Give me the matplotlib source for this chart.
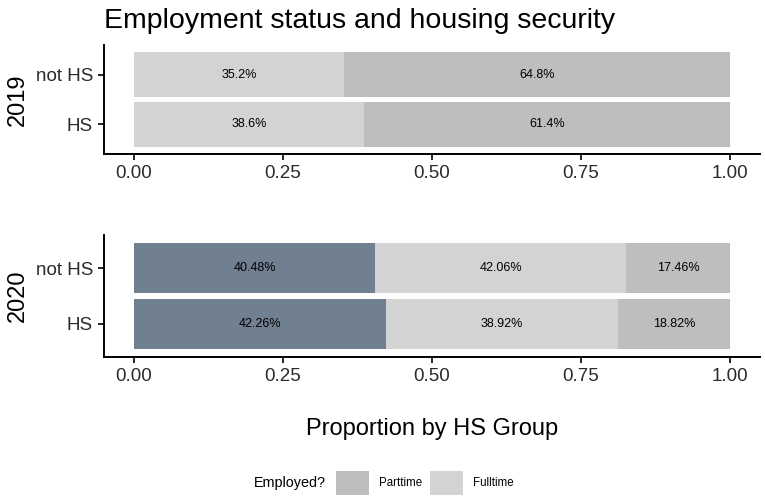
import matplotlib
matplotlib.use("Agg")
import matplotlib.pyplot as plt
from matplotlib.patches import Patch
import numpy as np

plt.rcParams['font.family'] = ['Liberation Sans', 'DejaVu Sans']

groups = ["HS", "not HS"]
# 2019 proportions
fulltime_2019 = [0.386, 0.352]
parttime_2019 = [0.614, 0.648]
# 2020 proportions
unemployed_2020 = [0.4226, 0.4048]
fulltime_2020 = [0.3892, 0.4206]
parttime_2020 = [0.1882, 0.1746]

labels_2019 = [["38.6%", "35.2%"], ["61.4%", "64.8%"]]
labels_2020 = [["42.26%", "40.48%"], ["38.92%", "42.06%"], ["18.82%", "17.46%"]]

c_slate = "#708090"
c_full = "#D3D3D3"
c_part = "#BEBEBE"

W, H = 765, 504
fig = plt.figure(figsize=(W / 100, H / 100), dpi=100)

def fx(px):
    return px / W

def fy(py):
    return 1 - py / H

ax1 = fig.add_axes([fx(104), fy(154), fx(760) - fx(104), fy(45) - fy(154)])
ax2 = fig.add_axes([fx(104), fy(357), fx(760) - fx(104), fy(235) - fy(357)])

ypos = np.arange(len(groups))

def draw(ax, series, colors, labels):
    left = np.zeros(len(groups))
    for vals, col, labs in zip(series, colors, labels):
        vals = np.array(vals)
        ax.barh(ypos, vals, left=left, height=0.9, color=col, edgecolor='none')
        for y, l, v, t in zip(ypos, left, vals, labs):
            ax.text(l + v / 2, y, t, ha='center', va='center', fontsize=9, color='black')
        left = left + vals

draw(ax1, [fulltime_2019, parttime_2019], [c_full, c_part], labels_2019)
draw(ax2, [unemployed_2020, fulltime_2020, parttime_2020], [c_slate, c_full, c_part], labels_2020)

xt = [0.0, 0.25, 0.5, 0.75, 1.0]
for ax, yl in [(ax1, "2019"), (ax2, "2020")]:
    ax.set_xlim(-0.05, 1.05)
    ax.set_ylim(-0.6, 1.6)
    ax.set_yticks(ypos)
    ax.set_yticklabels(groups)
    ax.set_xticks(xt)
    ax.set_xticklabels(["0.00", "0.25", "0.50", "0.75", "1.00"])
    for s in ['top', 'right']:
        ax.spines[s].set_visible(False)
    for s in ['left', 'bottom']:
        ax.spines[s].set_linewidth(1.4)
        ax.spines[s].set_color('black')
    ax.tick_params(axis='both', length=4.3, width=1.2, color='black', pad=3.6,
                   labelsize=13.5, labelcolor='#2b2b2b')
    ax.set_ylabel(yl, fontsize=17, labelpad=5, color='black')

ax2.set_xlabel("Proportion by HS Group", fontsize=17, labelpad=24, color='black')

fig.text(fx(104), fy(28), "Employment status and housing security", fontsize=20.5,
         ha='left', va='baseline', color='black')

# legend
fig.text(fx(254), fy(483), "Employed?", fontsize=10.4, ha='left', va='center', color='black')
handles = [Patch(facecolor=c_part, edgecolor='none', label="Parttime"),
           Patch(facecolor=c_full, edgecolor='none', label="Fulltime")]
fig.legend(handles=handles, loc='center left', bbox_to_anchor=(fx(336), fy(483)),
           ncol=2, frameon=False, fontsize=8.3, handlelength=2.87, handleheight=2.87,
           handletextpad=0.87, columnspacing=0.7, borderpad=0, borderaxespad=0)

fig.savefig("out.png", dpi=100)
